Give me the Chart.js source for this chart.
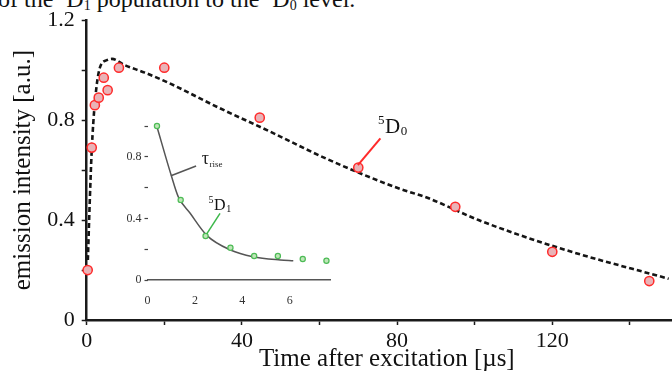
<!DOCTYPE html>
<html lang="en">
<head>
<meta charset="utf-8">
<title>Emission decay</title>
<script src="https://cdn.jsdelivr.net/npm/chart.js@4.4.0/dist/chart.umd.min.js"></script>
<style>
  body { margin: 0; width: 672px; height: 374px; overflow: hidden; background: #fff; position: relative; }
  #main { position: absolute; left: 0; top: 0; }
  #inset { position: absolute; left: 112px; top: 112px; }
  #caption { position: absolute; left: -2px; top: -12px; font: 24px 'Liberation Serif', serif; line-height: 22px; white-space: nowrap; color: #111; }
  #caption sup, #caption sub { font-size: 14px; line-height: 0; }
  #caption sup { vertical-align: 9px; }
  #caption sub { vertical-align: -3px; }
</style>
</head>
<body>
<div id="caption">of the <sup>5</sup>D<sub>1</sub> population to the <sup>5</sup>D<sub>0</sub> level.</div>
<canvas id="main" width="693" height="374"></canvas>
<canvas id="inset" width="228" height="196"></canvas>
<script>
// main panel: 5D0 emission, measured points and fitted curve
const mainTimes = [0.25, 1.3, 2.1, 3.1, 4.4, 5.4, 8.3, 20, 44.6, 70, 95, 120, 145];
const mainIntensity = [0.2, 0.69, 0.86, 0.89, 0.97, 0.92, 1.01, 1.01, 0.81, 0.61, 0.453, 0.273, 0.156];
const fitTimes = [0.3, 0.8, 1.3, 2.1, 3.4, 5.2, 6.5, 9.8, 15, 21, 34, 47, 62, 80, 88, 101, 122, 150];
const fitIntensity = [0.24, 0.48, 0.68, 0.87, 1.01, 1.04, 1.045, 1.02, 0.99, 0.95, 0.85, 0.756, 0.644, 0.529, 0.488, 0.40, 0.287, 0.165];
const xTickLabels = [0, 40, 80, 120];
const yTickLabels = [0, 0.4, 0.8, 1.2];

// inset: 5D1 emission
const insetTimes = [0.4, 1.4, 2.45, 3.5, 4.5, 5.5, 6.55, 7.55];
const insetIntensity = [1.0, 0.52, 0.286, 0.21, 0.156, 0.156, 0.136, 0.125];
const insetFitTimes = [0.39, 1.0, 1.3, 1.8, 2.5, 3.5, 4.45, 5.6, 6.15];
const insetFitIntensity = [1.0, 0.68, 0.54, 0.433, 0.29, 0.195, 0.151, 0.13, 0.125];
const insetXTickLabels = [0, 2, 4, 6];
const insetYTickLabels = [0, 0.4, 0.8];

const SERIF = "'Liberation Serif', 'Times New Roman', serif";
const pts = (xs, ys) => xs.map((x, i) => ({ x: x, y: ys[i] }));
const isLabel = (list, v) => list.some(l => Math.abs(l - v) < 1e-6);

function drawLevel(ctx, x, y, size, sup, sub, color) {
  ctx.fillStyle = color;
  ctx.textBaseline = 'alphabetic';
  ctx.font = size + 'px ' + SERIF;
  const w = ctx.measureText('D').width;
  ctx.textAlign = 'left';
  ctx.fillText('D', x, y);
  ctx.font = Math.round(size * 0.62) + 'px ' + SERIF;
  ctx.textAlign = 'right';
  ctx.fillText(sup, x - 0.5, y - size * 0.42);
  ctx.textAlign = 'left';
  ctx.fillText(sub, x + w + 0.5, y + size * 0.12);
}

function leader(ctx, sx, sy, ex, ey, color, width) {
  ctx.strokeStyle = color;
  ctx.lineWidth = width;
  ctx.beginPath();
  ctx.moveTo(sx, sy);
  ctx.lineTo(ex, ey);
  ctx.stroke();
}

const mainNotes = {
  id: 'mainNotes',
  afterDatasetsDraw(chart) {
    const ctx = chart.ctx, xs = chart.scales.x, ys = chart.scales.y;
    ctx.save();
    leader(ctx, xs.getPixelForValue(69.9), ys.getPixelForValue(0.62),
      xs.getPixelForValue(75.7), ys.getPixelForValue(0.727), '#ff2a2a', 2);
    drawLevel(ctx, xs.getPixelForValue(76.9), ys.getPixelForValue(0.75), 21, '5', '0', '#111');
    ctx.restore();
  }
};

const insetNotes = {
  id: 'insetNotes',
  afterDatasetsDraw(chart) {
    const ctx = chart.ctx, xs = chart.scales.x, ys = chart.scales.y;
    ctx.save();
    leader(ctx, xs.getPixelForValue(0.99), ys.getPixelForValue(0.677),
      xs.getPixelForValue(2.05), ys.getPixelForValue(0.74), '#555', 1.5);
    leader(ctx, xs.getPixelForValue(2.5), ys.getPixelForValue(0.3),
      xs.getPixelForValue(3.06), ys.getPixelForValue(0.433), '#3cb84a', 1.5);
    ctx.fillStyle = '#222';
    ctx.textAlign = 'left';
    ctx.textBaseline = 'alphabetic';
    const tx = xs.getPixelForValue(2.29), ty = ys.getPixelForValue(0.753);
    ctx.font = '18px ' + SERIF;
    ctx.fillText('\u03c4', tx, ty);
    const tw = ctx.measureText('\u03c4').width;
    ctx.font = '9px ' + SERIF;
    ctx.fillText('rise', tx + tw + 0.5, ty + 3);
    drawLevel(ctx, xs.getPixelForValue(2.81), ys.getPixelForValue(0.455), 16, '5', '1', '#111');
    ctx.restore();
  }
};

new Chart(document.getElementById('main'), {
  type: 'scatter',
  data: {
    datasets: [{
      data: pts(mainTimes, mainIntensity),
      showLine: false,
      pointRadius: 4.6,
      pointBorderWidth: 1.5,
      pointBackgroundColor: '#e9b3b7',
      pointBorderColor: '#ff2b2b',
      clip: false
    }, {
      data: pts(fitTimes, fitIntensity),
      showLine: true,
      pointRadius: 0,
      borderColor: '#151515',
      borderWidth: 2.6,
      borderDash: [5, 3],
      cubicInterpolationMode: 'monotone',
      clip: false
    }]
  },
  options: {
    responsive: false,
    animation: false,
    devicePixelRatio: 1,
    layout: { padding: { top: 19, right: 0, left: 0, bottom: 0 } },
    plugins: { legend: { display: false }, tooltip: { enabled: false } },
    scales: {
      x: {
        type: 'linear', min: 0, max: 154.7,
        border: { display: true, color: '#1a1a1a', width: 2.5 },
        grid: { display: true, drawOnChartArea: false, drawTicks: true, tickLength: 5, tickColor: '#1a1a1a', tickWidth: 1.5 },
        ticks: {
          stepSize: 20, includeBounds: false, autoSkip: false, maxRotation: 0, padding: 3,
          color: '#111', font: { family: SERIF, size: 22 },
          callback: v => isLabel(xTickLabels, v) ? String(v) : ''
        },
        title: { display: true, text: 'Time after excitation [\u00b5s]', color: '#111', font: { family: SERIF, size: 25 }, padding: { top: 0, bottom: 0 } },
        afterFit: s => { s.height = 54; }
      },
      y: {
        type: 'linear', min: 0, max: 1.2,
        border: { display: true, color: '#1a1a1a', width: 2.5 },
        grid: { display: true, drawOnChartArea: false, drawTicks: true, tickLength: 5, tickColor: '#1a1a1a', tickWidth: 1.5 },
        ticks: {
          stepSize: 0.2, includeBounds: false, autoSkip: false, padding: 7,
          color: '#111', font: { family: SERIF, size: 22 },
          callback: v => isLabel(yTickLabels, v) ? String(Math.round(v * 10) / 10) : ''
        },
        title: { display: true, text: 'emission intensity [a.u.]', color: '#111', font: { family: SERIF, size: 25 }, padding: { top: 8, bottom: 0 } },
        afterFit: s => { s.width = 86.7; }
      }
    }
  },
  plugins: [mainNotes]
});

new Chart(document.getElementById('inset'), {
  type: 'scatter',
  data: {
    datasets: [{
      data: pts(insetTimes, insetIntensity),
      showLine: false,
      pointRadius: 2.6,
      pointBorderWidth: 1.2,
      pointBackgroundColor: '#bfe6b8',
      pointBorderColor: '#4cbb55',
      clip: false
    }, {
      data: pts(insetFitTimes, insetFitIntensity),
      showLine: true,
      pointRadius: 0,
      borderColor: '#555',
      borderWidth: 1.5,
      cubicInterpolationMode: 'monotone',
      clip: false
    }]
  },
  options: {
    responsive: false,
    animation: false,
    devicePixelRatio: 1,
    layout: { padding: { top: 14, right: 10, left: 0, bottom: 0 } },
    plugins: { legend: { display: false }, tooltip: { enabled: false } },
    scales: {
      x: {
        type: 'linear', min: 0, max: 7.7,
        border: { display: true, color: '#555', width: 1.5 },
        grid: { display: false },
        ticks: {
          stepSize: 2, includeBounds: false, autoSkip: false, maxRotation: 0, padding: 6,
          color: '#333', font: { family: SERIF, size: 12 },
          callback: v => isLabel(insetXTickLabels, v) ? String(v) : ''
        },
        afterFit: s => { s.height = 28; }
      },
      y: {
        type: 'linear', min: 0, max: 1.0,
        border: { display: false },
        grid: { display: true, drawOnChartArea: false, drawTicks: true, tickLength: 3, tickColor: '#444', tickWidth: 1.2 },
        ticks: {
          stepSize: 0.2, includeBounds: false, autoSkip: false, padding: 3,
          color: '#333', font: { family: SERIF, size: 12 },
          callback: v => isLabel(insetYTickLabels, v) ? String(Math.round(v * 10) / 10) : ''
        },
        afterFit: s => { s.width = 35.5; }
      }
    }
  },
  plugins: [insetNotes]
});
</script>
</body>
</html>
